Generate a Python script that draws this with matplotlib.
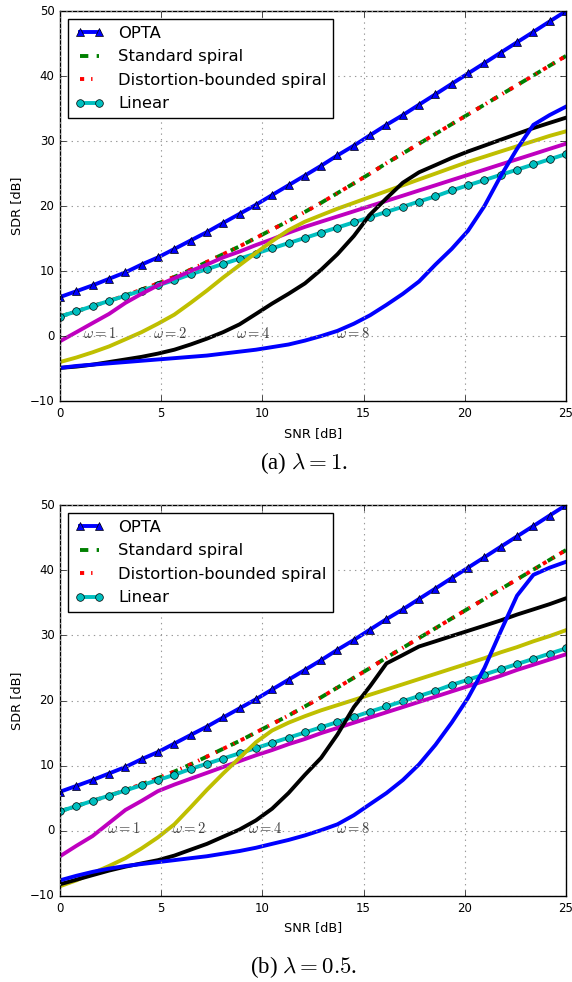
import matplotlib
matplotlib.use("Agg")
import matplotlib.pyplot as plt

# SNR grid (dB), same for every curve
snr = [0.0, 0.81, 1.61, 2.42, 3.23, 4.03, 4.84, 5.65, 6.45, 7.26, 8.06, 8.87,
       9.68, 10.48, 11.29, 12.1, 12.9, 13.71, 14.52, 15.32, 16.13, 16.94,
       17.74, 18.55, 19.35, 20.16, 20.97, 21.77, 22.58, 23.39, 24.19, 25.0]

# reference curves (same in both panels)
opta = [6.0, 6.9, 7.8, 8.8, 9.8, 11.0, 12.1, 13.4, 14.7, 16.0, 17.4, 18.8,
        20.2, 21.7, 23.2, 24.7, 26.2, 27.8, 29.3, 30.9, 32.5, 34.0, 35.6,
        37.2, 38.8, 40.4, 42.0, 43.6, 45.2, 46.8, 48.4, 50.0]
std_spiral = [3.0, 3.8, 4.6, 5.4, 6.25, 7.15, 8.1, 9.1, 10.2, 11.4, 12.6, 13.8,
              15.1, 16.4, 17.7, 19.1, 20.5, 22.0, 23.5, 25.0, 26.6, 28.1,
              29.6, 31.1, 32.6, 34.1, 35.6, 37.1, 38.6, 40.1, 41.6, 43.1]
db_spiral = [3.0, 3.8, 4.6, 5.4, 6.25, 7.15, 8.1, 9.1, 10.2, 11.4, 12.6, 13.8,
             15.1, 16.4, 17.7, 19.1, 20.5, 22.0, 23.5, 25.0, 26.6, 28.1,
             29.6, 31.1, 32.6, 34.1, 35.6, 37.1, 38.6, 40.1, 41.6, 43.1]
linear = [3.0, 3.8, 4.6, 5.4, 6.2, 7.0, 7.8, 8.6, 9.5, 10.3, 11.1, 11.9,
          12.7, 13.5, 14.3, 15.1, 15.9, 16.7, 17.5, 18.3, 19.1, 19.9, 20.7,
          21.5, 22.4, 23.2, 24.0, 24.8, 25.6, 26.4, 27.2, 28.0]

# lambda = 1, omega = 1, 2, 4, 8
w1_l1 = [-0.8, 0.6, 2.0, 3.4, 5.1, 6.5, 7.8, 8.9, 10.0, 11.0, 12.1, 13.0,
         14.0, 14.9, 15.9, 16.8, 17.6, 18.4, 19.2, 20.0, 20.8, 21.6, 22.4,
         23.2, 24.0, 24.8, 25.6, 26.4, 27.2, 28.0, 28.8, 29.6]
w2_l1 = [-4.0, -3.3, -2.5, -1.6, -0.5, 0.6, 1.9, 3.3, 5.1, 7.0, 9.0, 10.9,
         12.8, 14.6, 16.3, 17.6, 18.6, 19.6, 20.5, 21.4, 22.3, 23.2, 24.1,
         25.0, 25.9, 26.8, 27.6, 28.4, 29.2, 30.0, 30.8, 31.5]
w4_l1 = [-4.9, -4.7, -4.4, -4.0, -3.6, -3.2, -2.7, -2.1, -1.3, -0.4, 0.6, 1.8,
         3.4, 5.0, 6.5, 8.1, 10.2, 12.6, 15.4, 18.7, 21.2, 23.6, 25.2,
         26.3, 27.4, 28.4, 29.3, 30.2, 31.1, 32.0, 32.8, 33.6]
w8_l1 = [-4.9, -4.6, -4.4, -4.2, -4.0, -3.8, -3.6, -3.4, -3.2, -3.0, -2.7, -2.4,
         -2.1, -1.7, -1.3, -0.7, 0.0, 0.8, 1.9, 3.2, 4.8, 6.5, 8.4,
         11.0, 13.4, 16.2, 20.0, 24.6, 28.8, 32.5, 34.0, 35.3]

# lambda = 0.5
w1_l05 = [-3.9, -2.3, -0.8, 1.2, 3.2, 4.6, 6.1, 7.1, 8.0, 8.9, 9.8, 10.7,
          11.6, 12.4, 13.3, 14.1, 15.0, 15.8, 16.6, 17.4, 18.2, 19.0, 19.8,
          20.6, 21.4, 22.2, 23.0, 23.8, 24.7, 25.5, 26.3, 27.1]
w2_l05 = [-8.5, -7.6, -6.5, -5.4, -4.2, -2.7, -1.0, 1.0, 3.6, 6.3, 8.8, 11.2,
          13.6, 15.4, 16.6, 17.6, 18.5, 19.3, 20.1, 20.9, 21.7, 22.5, 23.3,
          24.1, 24.9, 25.7, 26.5, 27.4, 28.2, 29.1, 29.9, 30.8]
w4_l05 = [-8.2, -7.5, -6.8, -6.1, -5.5, -5.0, -4.5, -3.8, -2.9, -2.0, -0.9, 0.2,
          1.6, 3.4, 5.8, 8.6, 11.2, 14.8, 19.0, 22.2, 25.7, 27.0, 28.3,
          29.1, 29.9, 30.7, 31.5, 32.3, 33.2, 34.0, 34.8, 35.7]
w8_l05 = [-7.6, -6.9, -6.3, -5.8, -5.4, -5.1, -4.8, -4.5, -4.2, -3.9, -3.5, -3.1,
          -2.6, -2.0, -1.4, -0.7, 0.1, 1.0, 2.4, 4.1, 5.8, 7.8, 10.2,
          13.2, 16.6, 20.4, 25.0, 30.6, 36.1, 39.3, 40.4, 41.3]

omega_labels = [r"$\omega=1$", r"$\omega=2$", r"$\omega=4$", r"$\omega=8$"]
omega_x_l1 = [1.95, 5.45, 9.55, 14.5]
omega_x_l05 = [3.15, 6.4, 10.15, 14.5]

plt.style.use("classic")
plt.rcParams.update({
    "figure.facecolor": "white",
    "savefig.facecolor": "white",
    "font.family": "DejaVu Sans",
    "mathtext.fontset": "cm",
    "xtick.labelsize": 8.5,
    "ytick.labelsize": 8.5,
    "axes.labelsize": 9.3,
    "grid.color": "0.6",
    "grid.linewidth": 0.8,
})


def draw_panel(ax, curves, omega_x, caption, cap_y):
    ax.plot(snr, opta, "b-", marker="^", ms=5.5, mec="k", mew=0.5, lw=2.8, label="OPTA")
    ax.plot(snr, std_spiral, "g--", lw=2.8, label="Standard spiral")
    ax.plot(snr, db_spiral, "r-.", lw=2.8, label="Distortion-bounded spiral")
    ax.plot(snr, linear, "c-", marker="o", ms=5.5, mec="k", mew=0.5, lw=2.8, label="Linear")
    for vals, col in zip(curves, ["m", "y", "k", "b"]):
        ax.plot(snr, vals, color=col, lw=2.8)
    for lab, xpos in zip(omega_labels, omega_x):
        ax.text(xpos, 0.4, lab, fontsize=10.5, color="0.25", ha="center", va="center")

    ax.set_xlim(0, 25)
    ax.set_ylim(-10, 50)
    ax.set_xticks([0, 5, 10, 15, 20, 25])
    ax.set_yticks([-10, 0, 10, 20, 30, 40, 50])
    ax.grid(True)
    ax.set_xlabel("SNR [dB]")
    ax.set_ylabel("SDR [dB]")
    ax.legend(loc="upper left", fontsize=11.8, handlelength=1.8, handletextpad=0.85,
              borderpad=0.4, labelspacing=0.52, borderaxespad=0.5, numpoints=2,
              fancybox=False)
    fig.text(0.531, cap_y, caption, fontsize=16.5, family="Liberation Serif",
             ha="center", va="center")


fig = plt.figure(figsize=(5.72, 9.82), dpi=100)
ax1 = fig.add_axes([0.1049, 0.5916, 0.8846, 0.3971])
ax2 = fig.add_axes([0.1049, 0.0876, 0.8846, 0.398])

draw_panel(ax1, [w1_l1, w2_l1, w4_l1, w8_l1], omega_x_l1, r"(a) $\lambda = 1$.", 0.5285)
draw_panel(ax2, [w1_l05, w2_l05, w4_l05, w8_l05], omega_x_l05, r"(b) $\lambda = 0.5$.", 0.0153)

fig.savefig("out.png", dpi=100)
